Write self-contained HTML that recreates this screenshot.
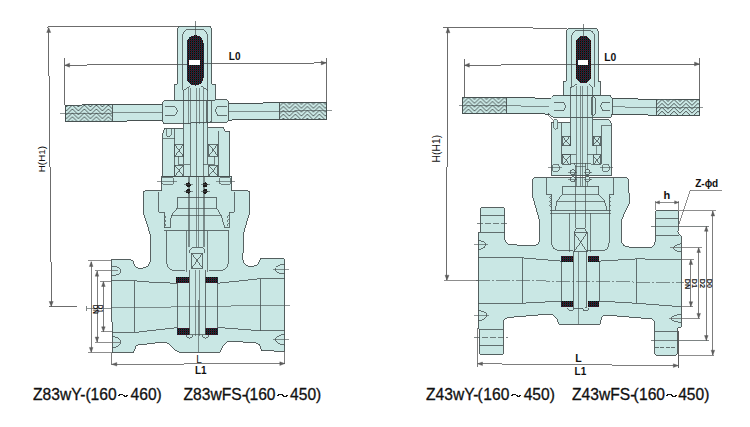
<!DOCTYPE html>
<html><head><meta charset="utf-8"><title>valves</title>
<style>
html,body{margin:0;padding:0;background:#fff;}
svg{display:block;}
text{font-family:"Liberation Sans",sans-serif;}
</style></head><body>
<svg width="750" height="427" viewBox="0 0 750 427" shape-rendering="crispEdges">
<defs>
<pattern id="dith" patternUnits="userSpaceOnUse" width="2" height="2" x="0" y="0">
<rect width="2" height="2" fill="#0c0808"/>
<rect x="0" y="0" width="1" height="1" fill="#501818"/>
<rect x="1" y="1" width="1" height="1" fill="#183c3c"/>
<rect x="1" y="0" width="1" height="1" fill="#1c1a40"/>
</pattern>
<pattern id="knurlA" patternUnits="userSpaceOnUse" width="12" height="3.9" x="66.4" y="105">
<rect width="12" height="3.9" fill="#c9e7e4"/>
<path d="M0,-5.70 L6,-11.70 L12,-5.70 M0,-1.80 L6,-7.80 L12,-1.80 M0,2.10 L6,-3.90 L12,2.10 M0,6.00 L6,0.00 L12,6.00 M0,9.90 L6,3.90 L12,9.90" fill="none" stroke="#465050" stroke-width="0.95"/>
</pattern>
<pattern id="knurlB" patternUnits="userSpaceOnUse" width="12" height="3.9" x="277.4" y="102.5">
<rect width="12" height="3.9" fill="#c9e7e4"/>
<path d="M0,-5.70 L6,-11.70 L12,-5.70 M0,-1.80 L6,-7.80 L12,-1.80 M0,2.10 L6,-3.90 L12,2.10 M0,6.00 L6,0.00 L12,6.00 M0,9.90 L6,3.90 L12,9.90" fill="none" stroke="#465050" stroke-width="0.95"/>
</pattern>
<pattern id="knurlC" patternUnits="userSpaceOnUse" width="12" height="3.9" x="462.5" y="97.5">
<rect width="12" height="3.9" fill="#c9e7e4"/>
<path d="M0,-5.70 L6,-11.70 L12,-5.70 M0,-1.80 L6,-7.80 L12,-1.80 M0,2.10 L6,-3.90 L12,2.10 M0,6.00 L6,0.00 L12,6.00 M0,9.90 L6,3.90 L12,9.90" fill="none" stroke="#465050" stroke-width="0.95"/>
</pattern>
<pattern id="knurlD" patternUnits="userSpaceOnUse" width="12" height="3.9" x="656" y="99.5">
<rect width="12" height="3.9" fill="#c9e7e4"/>
<path d="M0,-5.70 L6,-11.70 L12,-5.70 M0,-1.80 L6,-7.80 L12,-1.80 M0,2.10 L6,-3.90 L12,2.10 M0,6.00 L6,0.00 L12,6.00 M0,9.90 L6,3.90 L12,9.90" fill="none" stroke="#465050" stroke-width="0.95"/>
</pattern>
</defs>
<rect width="750" height="427" fill="#fff"/>
<line x1="46.5" y1="27.0" x2="178.0" y2="26.2" stroke="#5c5c5c" stroke-width="0.9" />
<line x1="48.6" y1="27.5" x2="49.8" y2="167.0" stroke="#5c5c5c" stroke-width="0.9" />
<line x1="50.6" y1="167.0" x2="51.2" y2="306.5" stroke="#5c5c5c" stroke-width="0.9" />
<polygon points="48.7,27.5 46.7,32.5 50.7,32.5" fill="#5c5c5c" stroke="#5c5c5c" stroke-width="0.4" shape-rendering="auto"/>
<polygon points="51.2,306.5 49.2,301.5 53.2,301.5" fill="#5c5c5c" stroke="#5c5c5c" stroke-width="0.4" shape-rendering="auto"/>
<line x1="49.0" y1="306.5" x2="77.0" y2="306.3" stroke="#5c5c5c" stroke-width="0.9" />
<line x1="64.4" y1="58.0" x2="64.6" y2="105.0" stroke="#5c5c5c" stroke-width="0.9" />
<line x1="326.2" y1="58.0" x2="326.4" y2="103.0" stroke="#5c5c5c" stroke-width="0.9" />
<line x1="64.5" y1="65.2" x2="326.2" y2="62.9" stroke="#5c5c5c" stroke-width="0.9" />
<polygon points="64.6,65.2 69.6,63.2 69.6,67.2" fill="#5c5c5c" stroke="#5c5c5c" stroke-width="0.4" shape-rendering="auto"/>
<polygon points="326.2,62.9 321.2,60.9 321.2,64.9" fill="#5c5c5c" stroke="#5c5c5c" stroke-width="0.4" shape-rendering="auto"/>
<polygon points="65.2,105.2 326.6,102.3 326.6,119.1 65.2,121.6" fill="#c9e7e4" stroke="#465050" stroke-width="0.9" />
<polygon points="65.6,105.6 112.2,105.0 112.2,121.0 65.6,121.2" fill="url(#knurlA)" stroke="none"/>
<polygon points="279.0,102.9 326.2,102.6 326.2,118.8 279.0,119.3" fill="url(#knurlB)" stroke="none"/>
<polygon points="65.2,105.2 326.6,102.3 326.6,119.1 65.2,121.6" fill="none" stroke="#465050" stroke-width="0.9" />
<line x1="112.2" y1="104.9" x2="112.2" y2="121.1" stroke="#465050" stroke-width="0.9" />
<line x1="279.0" y1="102.8" x2="279.0" y2="119.4" stroke="#465050" stroke-width="0.9" />
<line x1="60.0" y1="113.4" x2="166.0" y2="112.6" stroke="#465050" stroke-width="0.6" />
<line x1="226.0" y1="111.4" x2="332.0" y2="110.8" stroke="#465050" stroke-width="0.6" />
<path d="M143.4,192.8 Q143.4,190.7 145.5,190.7 L247.6,190.7 Q249.6,190.7 249.6,192.8 L249.6,212.8 L243.3,233.9 L242.9,259.9 Q244,266.6 252.3,266.4 Q259.3,266 260.5,258.2 L282.9,258.2 Q284.5,258.2 284.5,260 L284.7,351.1 L261.2,350.9 Q261,343 254.8,342.6 L229.2,341.3 Q224,342 220.1,352 L178.6,352 Q173.5,350 172,347 Q168,342 163.7,341.9 L136.5,345.1 L133.8,352 L112.3,352.5 L111.4,259.7 L128.7,259 L132.8,260.9 Q134.5,268.6 141,268.4 Q150.5,268 151,257.6 L150.4,235 L143.4,212.8 Z" fill="#c9e7e4" stroke="#465050" stroke-width="0.9" />
<path d="M158.8,192.1 L158.8,212 L164.2,212 L164.2,227.5 M234.3,192.1 L234.3,212 L229.2,212 L229.2,227.5" fill="none" stroke="#465050" stroke-width="0.8" />
<line x1="164.2" y1="227.5" x2="229.2" y2="227.5" stroke="#465050" stroke-width="0.8" />
<line x1="164.2" y1="230.7" x2="229.2" y2="230.7" stroke="#465050" stroke-width="0.8" />
<path d="M164.2,214.9 q3,1.6 0,3.2 M229.2,214.9 q-3,1.6 0,3.2" fill="none" stroke="#465050" stroke-width="0.7" />
<path d="M164.2,218.9 q3,1.6 0,3.2 M229.2,218.9 q-3,1.6 0,3.2" fill="none" stroke="#465050" stroke-width="0.7" />
<path d="M164.2,222.9 q3,1.6 0,3.2 M229.2,222.9 q-3,1.6 0,3.2" fill="none" stroke="#465050" stroke-width="0.7" />
<path d="M170,227.5 L171.2,215.9 L177,208.2 L177.7,197.2 L216.3,197.2 L216.6,208.2 L221.4,215.9 L224.6,227.5" fill="#c9e7e4" stroke="#465050" stroke-width="0.8" />
<line x1="177.0" y1="208.2" x2="216.6" y2="208.2" stroke="#465050" stroke-width="0.7" />
<line x1="171.4" y1="215.4" x2="221.2" y2="215.4" stroke="#465050" stroke-width="0.7" />
<path d="M166.7,230.7 L166.7,262 Q166.7,270.4 174,270.4 L185,270.4 M228.3,230.7 L228.3,262 Q228.3,270.4 221,270.4 L209,270.4" fill="none" stroke="#465050" stroke-width="0.8" />
<line x1="186.5" y1="230.7" x2="186.5" y2="272.0" stroke="#465050" stroke-width="0.7" />
<line x1="207.9" y1="230.7" x2="207.9" y2="272.0" stroke="#465050" stroke-width="0.7" />
<path d="M111.4,280.6 L134.6,280.6 L141,281.6 L176.5,283.3" fill="none" stroke="#465050" stroke-width="0.8" />
<path d="M217.8,283.3 L259.3,278.7 L284.5,278.7" fill="none" stroke="#465050" stroke-width="0.8" />
<path d="M112.3,332.3 L135.9,332.3 L176.5,327.7" fill="none" stroke="#465050" stroke-width="0.8" />
<path d="M218,327.5 L260.1,330.7 L284.7,330.7" fill="none" stroke="#465050" stroke-width="0.8" />
<line x1="134.6" y1="280.6" x2="134.3" y2="332.3" stroke="#465050" stroke-width="0.8" />
<line x1="260.2" y1="278.7" x2="260.1" y2="330.7" stroke="#465050" stroke-width="0.8" />
<line x1="177.5" y1="283.3" x2="177.5" y2="328.0" stroke="#465050" stroke-width="0.8" />
<line x1="217.0" y1="283.3" x2="217.0" y2="328.0" stroke="#465050" stroke-width="0.8" />
<rect x="176.3" y="277.0" width="13.0" height="6.3" rx="0" fill="url(#dith)" stroke="none" stroke-width="0.9" />
<rect x="205.0" y="277.0" width="12.8" height="6.3" rx="0" fill="url(#dith)" stroke="none" stroke-width="0.9" />
<rect x="176.5" y="328.2" width="13.1" height="6.4" rx="0" fill="url(#dith)" stroke="none" stroke-width="0.9" />
<rect x="205.0" y="328.2" width="13.0" height="6.4" rx="0" fill="url(#dith)" stroke="none" stroke-width="0.9" />
<line x1="189.7" y1="270.0" x2="189.7" y2="336.0" stroke="#465050" stroke-width="0.8" />
<line x1="205.0" y1="270.0" x2="205.0" y2="336.0" stroke="#465050" stroke-width="0.8" />
<line x1="195.5" y1="270.0" x2="195.5" y2="336.0" stroke="#465050" stroke-width="0.6" />
<line x1="199.2" y1="270.0" x2="199.2" y2="336.0" stroke="#465050" stroke-width="0.6" />
<path d="M186,334.6 a3.6,3.6 0 0 0 7.2,0 M201.8,334.6 a3.6,3.6 0 0 0 7.2,0" fill="#c9e7e4" stroke="#465050" stroke-width="0.8" />
<path d="M189.6,253 L189.6,250 L192.5,247.3 L202,247.3 L204.8,250 L204.8,253" fill="#c9e7e4" stroke="#465050" stroke-width="0.8" />
<rect x="191.4" y="253.0" width="11.4" height="15.4" rx="0" fill="#c9e7e4" stroke="#465050" stroke-width="0.8" />
<line x1="191.4" y1="253.0" x2="202.8" y2="268.4" stroke="#465050" stroke-width="0.8" />
<line x1="202.8" y1="253.0" x2="191.4" y2="268.4" stroke="#465050" stroke-width="0.8" />
<path d="M111.4,265.8 Q120.9,267 120.9,271 Q120.9,275 111.4,275.8" fill="none" stroke="#465050" stroke-width="0.8" />
<path d="M284.5,264 Q275.1,265.5 275.1,269.3 Q275.1,273 284.5,274" fill="none" stroke="#465050" stroke-width="0.8" />
<path d="M112.3,336.5 Q120.8,337.5 120.8,342.2 Q120.8,346.5 112.3,347.7" fill="none" stroke="#465050" stroke-width="0.8" />
<path d="M284.7,334.4 Q275.6,335.5 275.6,339.7 Q275.6,344 284.7,345.1" fill="none" stroke="#465050" stroke-width="0.8" />
<line x1="86.5" y1="308.4" x2="290.0" y2="305.0" stroke="#465050" stroke-width="0.6" />
<line x1="273.4" y1="269.3" x2="289.2" y2="269.3" stroke="#465050" stroke-width="0.6" />
<line x1="273.0" y1="339.7" x2="289.2" y2="339.7" stroke="#465050" stroke-width="0.6" />
<line x1="189.7" y1="334.4" x2="205.0" y2="334.4" stroke="#465050" stroke-width="0.7" />
<line x1="86.8" y1="306.0" x2="86.8" y2="310.5" stroke="#465050" stroke-width="0.7" />
<line x1="198.8" y1="300.0" x2="198.8" y2="352.2" stroke="#465050" stroke-width="0.6" />
<path d="M161.5,190.9 L161.5,176.2 L231.5,176.2 L231.5,190.9" fill="#c9e7e4" stroke="#465050" stroke-width="0.9" />
<rect x="161.6" y="177.8" width="12.0" height="6.4" rx="1.5" fill="#c9e7e4" stroke="#465050" stroke-width="0.7" />
<rect x="219.6" y="177.8" width="11.0" height="6.4" rx="1.5" fill="#c9e7e4" stroke="#465050" stroke-width="0.7" />
<line x1="156.5" y1="181.0" x2="177.0" y2="181.0" stroke="#465050" stroke-width="0.6" />
<line x1="215.5" y1="181.0" x2="235.0" y2="181.0" stroke="#465050" stroke-width="0.6" />
<path d="M164.4,128.4 L223.8,127.8 L224.5,131.4 L229.8,131.4 L229.8,176.2 L162.5,176.2 L162.5,134 Z" fill="#c9e7e4" stroke="#465050" stroke-width="0.9" />
<line x1="174.7" y1="128.4" x2="174.7" y2="176.2" stroke="#465050" stroke-width="0.8" />
<line x1="218.7" y1="131.4" x2="218.7" y2="176.2" stroke="#465050" stroke-width="0.8" />
<path d="M166.2,128.6 L166.2,135 Q168.6,139 171,135 L171,128.6" fill="none" stroke="#465050" stroke-width="0.7" />
<line x1="162.5" y1="138.2" x2="174.7" y2="138.2" stroke="#465050" stroke-width="0.7" />
<rect x="174.7" y="144.4" width="8.8" height="12.1" rx="0" fill="#c9e7e4" stroke="#465050" stroke-width="0.8" />
<line x1="174.7" y1="144.4" x2="183.5" y2="156.5" stroke="#465050" stroke-width="0.8" />
<line x1="183.5" y1="144.4" x2="174.7" y2="156.5" stroke="#465050" stroke-width="0.8" />
<rect x="174.7" y="165.0" width="8.8" height="11.2" rx="0" fill="#c9e7e4" stroke="#465050" stroke-width="0.8" />
<line x1="174.7" y1="165.0" x2="183.5" y2="176.2" stroke="#465050" stroke-width="0.8" />
<line x1="183.5" y1="165.0" x2="174.7" y2="176.2" stroke="#465050" stroke-width="0.8" />
<rect x="208.6" y="144.0" width="9.3" height="12.2" rx="0" fill="#c9e7e4" stroke="#465050" stroke-width="0.8" />
<line x1="208.6" y1="144.0" x2="217.9" y2="156.2" stroke="#465050" stroke-width="0.8" />
<line x1="217.9" y1="144.0" x2="208.6" y2="156.2" stroke="#465050" stroke-width="0.8" />
<rect x="208.6" y="165.0" width="9.3" height="11.2" rx="0" fill="#c9e7e4" stroke="#465050" stroke-width="0.8" />
<line x1="208.6" y1="165.0" x2="217.9" y2="176.2" stroke="#465050" stroke-width="0.8" />
<line x1="217.9" y1="165.0" x2="208.6" y2="176.2" stroke="#465050" stroke-width="0.8" />
<rect x="183.3" y="84.5" width="24.5" height="44.5" rx="0" fill="#c9e7e4" stroke="none" stroke-width="0.9" />
<line x1="183.3" y1="123.0" x2="183.3" y2="164.4" stroke="#465050" stroke-width="0.8" />
<line x1="207.8" y1="123.0" x2="207.8" y2="164.4" stroke="#465050" stroke-width="0.8" />
<line x1="190.0" y1="123.0" x2="190.0" y2="176.2" stroke="#465050" stroke-width="0.7" />
<line x1="196.1" y1="123.0" x2="196.1" y2="176.2" stroke="#465050" stroke-width="0.7" />
<line x1="203.4" y1="123.0" x2="203.4" y2="176.2" stroke="#465050" stroke-width="0.7" />
<line x1="178.3" y1="156.4" x2="178.3" y2="164.4" stroke="#465050" stroke-width="0.7" />
<line x1="178.3" y1="164.4" x2="190.0" y2="164.4" stroke="#465050" stroke-width="0.7" />
<line x1="214.9" y1="156.4" x2="214.9" y2="164.4" stroke="#465050" stroke-width="0.7" />
<line x1="203.4" y1="164.4" x2="214.9" y2="164.4" stroke="#465050" stroke-width="0.7" />
<line x1="174.7" y1="176.2" x2="218.7" y2="176.2" stroke="#465050" stroke-width="0.7" />
<line x1="188.6" y1="176.2" x2="188.6" y2="247.3" stroke="#465050" stroke-width="0.6" />
<line x1="189.9" y1="176.2" x2="189.9" y2="247.3" stroke="#465050" stroke-width="0.6" />
<line x1="196.3" y1="176.2" x2="196.3" y2="247.3" stroke="#465050" stroke-width="0.6" />
<line x1="198.3" y1="176.2" x2="198.3" y2="247.3" stroke="#465050" stroke-width="0.6" />
<line x1="203.4" y1="176.2" x2="203.4" y2="247.3" stroke="#465050" stroke-width="0.6" />
<line x1="204.7" y1="176.2" x2="204.7" y2="247.3" stroke="#465050" stroke-width="0.6" />
<circle cx="188.4" cy="184.8" r="2.4" fill="#1e1a1a"/>
<circle cx="188.4" cy="191.4" r="2.4" fill="#1e1a1a"/>
<circle cx="205.3" cy="184.8" r="2.4" fill="#1e1a1a"/>
<circle cx="205.3" cy="191.4" r="2.4" fill="#1e1a1a"/>
<line x1="184.0" y1="184.8" x2="193.0" y2="184.8" stroke="#465050" stroke-width="0.6" />
<line x1="184.0" y1="191.4" x2="193.0" y2="191.4" stroke="#465050" stroke-width="0.6" />
<line x1="201.0" y1="184.8" x2="210.0" y2="184.8" stroke="#465050" stroke-width="0.6" />
<line x1="201.0" y1="191.4" x2="210.0" y2="191.4" stroke="#465050" stroke-width="0.6" />
<path d="M162.2,103.2 L164.8,100.4 L227.3,99.7 L228.7,102.4 L228.7,119.8 L227.3,122.2 L164,123.6 L162.2,120.8 Z" fill="#c9e7e4" stroke="#465050" stroke-width="0.9" />
<path d="M164.8,106.7 L175.3,106.7 L177.4,110.9 L175.3,115.1 L164.8,115.1" fill="none" stroke="#465050" stroke-width="0.8" />
<path d="M226.6,106.7 L217.4,106.7 L215.3,110.9 L217.4,115.1 L226.6,115.1" fill="none" stroke="#465050" stroke-width="0.8" />
<rect x="206.2" y="100.4" width="5.6" height="21.8" rx="2.8" fill="#c9e7e4" stroke="#465050" stroke-width="0.8" />
<line x1="183.3" y1="99.7" x2="183.3" y2="123.5" stroke="#465050" stroke-width="0.8" />
<line x1="207.8" y1="99.7" x2="207.8" y2="123.5" stroke="#465050" stroke-width="0.8" />
<line x1="188.4" y1="99.7" x2="188.4" y2="123.5" stroke="#465050" stroke-width="0.6" />
<line x1="190.0" y1="99.7" x2="190.0" y2="123.5" stroke="#465050" stroke-width="0.6" />
<line x1="196.1" y1="99.7" x2="196.1" y2="123.5" stroke="#465050" stroke-width="0.6" />
<line x1="199.4" y1="99.7" x2="199.4" y2="123.5" stroke="#465050" stroke-width="0.6" />
<line x1="203.4" y1="99.7" x2="203.4" y2="123.5" stroke="#465050" stroke-width="0.6" />
<path d="M174.6,100 L174.6,84.2 L177.3,84.2 L177.3,30 Q177.3,26 181.3,26 L207.6,26 Q211.6,26 211.6,30 L211.6,84.2 L215.3,84.2 L215.3,100 Z" fill="#c9e7e4" stroke="#465050" stroke-width="0.9" />
<path d="M182.6,89.5 L182.6,36.5 Q182.6,29.4 189.6,29.4 L200.4,29.4 Q207.4,29.4 207.4,36.5 L207.4,89.5" fill="none" stroke="#465050" stroke-width="0.8" />
<rect x="186.8" y="35.2" width="16.9" height="50.4" rx="8.4" fill="url(#dith)" stroke="none" stroke-width="0.9" />
<rect x="189.3" y="59.8" width="10.4" height="4.8" rx="0" fill="#ffffff" stroke="none" stroke-width="0.9" />
<line x1="195.0" y1="21.0" x2="195.0" y2="36.0" stroke="#465050" stroke-width="0.7" />
<path d="M183.3,90.3 L190.4,86.3 M207.8,90.3 L201.4,86.3" fill="none" stroke="#465050" stroke-width="0.8" />
<line x1="183.3" y1="89.5" x2="183.3" y2="100.0" stroke="#465050" stroke-width="0.8" />
<line x1="207.8" y1="89.5" x2="207.8" y2="100.0" stroke="#465050" stroke-width="0.8" />
<line x1="188.4" y1="88.0" x2="188.4" y2="100.0" stroke="#465050" stroke-width="0.6" />
<line x1="190.0" y1="88.0" x2="190.0" y2="100.0" stroke="#465050" stroke-width="0.6" />
<line x1="196.1" y1="88.0" x2="196.1" y2="100.0" stroke="#465050" stroke-width="0.6" />
<line x1="199.4" y1="88.0" x2="199.4" y2="100.0" stroke="#465050" stroke-width="0.6" />
<line x1="203.4" y1="88.0" x2="203.4" y2="100.0" stroke="#465050" stroke-width="0.6" />
<line x1="177.3" y1="64.1" x2="186.8" y2="64.0" stroke="#465050" stroke-width="0.8" />
<line x1="203.7" y1="63.8" x2="211.6" y2="63.7" stroke="#465050" stroke-width="0.8" />
<line x1="88.0" y1="261.0" x2="111.4" y2="260.5" stroke="#5c5c5c" stroke-width="0.7" />
<line x1="95.0" y1="270.8" x2="118.0" y2="271.0" stroke="#5c5c5c" stroke-width="0.7" />
<line x1="100.0" y1="281.2" x2="111.4" y2="281.0" stroke="#5c5c5c" stroke-width="0.7" />
<line x1="88.0" y1="352.6" x2="112.3" y2="352.5" stroke="#5c5c5c" stroke-width="0.7" />
<line x1="95.0" y1="342.2" x2="120.0" y2="342.2" stroke="#5c5c5c" stroke-width="0.7" />
<line x1="101.0" y1="331.9" x2="112.3" y2="332.0" stroke="#5c5c5c" stroke-width="0.7" />
<line x1="91.2" y1="261.5" x2="91.2" y2="352.4" stroke="#5c5c5c" stroke-width="0.8" />
<line x1="97.0" y1="271.2" x2="97.0" y2="342.0" stroke="#5c5c5c" stroke-width="0.8" />
<line x1="103.4" y1="281.5" x2="103.4" y2="331.8" stroke="#5c5c5c" stroke-width="0.8" />
<polygon points="91.2,261.5 89.4,266.5 93.0,266.5" fill="#5c5c5c" stroke="#5c5c5c" stroke-width="0.4" shape-rendering="auto"/>
<polygon points="91.2,352.4 89.4,347.4 93.0,347.4" fill="#5c5c5c" stroke="#5c5c5c" stroke-width="0.4" shape-rendering="auto"/>
<polygon points="97.0,271.2 95.2,276.2 98.8,276.2" fill="#5c5c5c" stroke="#5c5c5c" stroke-width="0.4" shape-rendering="auto"/>
<polygon points="97.0,342.0 95.2,337.0 98.8,337.0" fill="#5c5c5c" stroke="#5c5c5c" stroke-width="0.4" shape-rendering="auto"/>
<polygon points="103.4,281.5 101.6,286.5 105.2,286.5" fill="#5c5c5c" stroke="#5c5c5c" stroke-width="0.4" shape-rendering="auto"/>
<polygon points="103.4,331.8 101.6,326.8 105.2,326.8" fill="#5c5c5c" stroke="#5c5c5c" stroke-width="0.4" shape-rendering="auto"/>
<line x1="111.6" y1="352.5" x2="111.8" y2="364.8" stroke="#5c5c5c" stroke-width="0.8" />
<line x1="284.7" y1="351.0" x2="284.9" y2="364.0" stroke="#5c5c5c" stroke-width="0.8" />
<line x1="111.8" y1="364.3" x2="284.8" y2="363.6" stroke="#5c5c5c" stroke-width="0.8" />
<polygon points="111.8,364.3 116.8,362.5 116.8,366.1" fill="#5c5c5c" stroke="#5c5c5c" stroke-width="0.4" shape-rendering="auto"/>
<polygon points="284.8,363.6 279.8,361.8 279.8,365.4" fill="#5c5c5c" stroke="#5c5c5c" stroke-width="0.4" shape-rendering="auto"/>
<line x1="442.9" y1="27.5" x2="567.0" y2="28.2" stroke="#5c5c5c" stroke-width="0.9" />
<line x1="448.0" y1="28.0" x2="447.2" y2="167.0" stroke="#5c5c5c" stroke-width="0.9" />
<line x1="446.6" y1="167.0" x2="447.0" y2="280.2" stroke="#5c5c5c" stroke-width="0.9" />
<polygon points="448.0,27.8 446.0,32.8 450.0,32.8" fill="#5c5c5c" stroke="#5c5c5c" stroke-width="0.4" shape-rendering="auto"/>
<polygon points="447.0,280.2 445.0,275.2 449.0,275.2" fill="#5c5c5c" stroke="#5c5c5c" stroke-width="0.4" shape-rendering="auto"/>
<line x1="444.0" y1="280.2" x2="478.0" y2="280.2" stroke="#5c5c5c" stroke-width="0.7" />
<line x1="464.4" y1="58.6" x2="464.4" y2="97.5" stroke="#5c5c5c" stroke-width="0.9" />
<line x1="699.5" y1="57.5" x2="699.6" y2="116.0" stroke="#5c5c5c" stroke-width="0.9" />
<line x1="464.4" y1="65.2" x2="699.5" y2="64.0" stroke="#5c5c5c" stroke-width="0.9" />
<polygon points="464.4,65.2 469.4,63.2 469.4,67.2" fill="#5c5c5c" stroke="#5c5c5c" stroke-width="0.4" shape-rendering="auto"/>
<polygon points="699.5,64.0 694.5,62.0 694.5,66.0" fill="#5c5c5c" stroke="#5c5c5c" stroke-width="0.4" shape-rendering="auto"/>
<polygon points="462.3,97.3 699.5,99.6 699.5,115.5 462.3,113.2" fill="#c9e7e4" stroke="#465050" stroke-width="0.9" />
<polygon points="462.6,97.7 506.8,98.1 506.8,113.6 462.6,112.9" fill="url(#knurlC)" stroke="none"/>
<polygon points="656.0,99.2 699.2,99.9 699.2,115.2 656.0,114.8" fill="url(#knurlD)" stroke="none"/>
<polygon points="462.3,97.3 699.5,99.6 699.5,115.5 462.3,113.2" fill="none" stroke="#465050" stroke-width="0.9" />
<line x1="506.8" y1="97.7" x2="506.8" y2="113.7" stroke="#465050" stroke-width="0.9" />
<line x1="656.0" y1="99.2" x2="656.0" y2="115.1" stroke="#465050" stroke-width="0.9" />
<line x1="459.0" y1="105.4" x2="560.0" y2="106.4" stroke="#465050" stroke-width="0.6" />
<line x1="605.0" y1="106.8" x2="703.0" y2="107.8" stroke="#465050" stroke-width="0.6" />
<path d="M532.9,179.7 Q532.9,177.5 535.1,177.5 L626.2,177.7 Q628.4,177.7 628.4,179.9 L629.5,202.9 L621,220.8 L621,238.7 Q621.5,247.1 629.5,247.1 L650.5,247.1 Q655.5,246 655.5,238.5 L655.5,212.4 Q655.5,210.4 657.5,210.4 L676.6,210.4 Q678.6,210.4 678.6,212.4 L678.6,223 L677.9,232.2 L681.0,236.4 L681.4,327.0 L677.4,328.2 L677.4,353.2 Q677.4,355.2 675.4,355.2 L656.7,355.2 Q654.7,355.2 654.7,353.2 L654.4,323.4 Q654,318.8 650.6,318.75 L604.7,315 Q601,316 600,324.4 L558.8,324.4 Q557,315 549.4,314 L508,317.5 Q503.2,318.5 503.2,323 L503.2,352.5 Q503.2,354.5 501.2,354.5 L481.5,354.5 Q479.5,354.5 479.5,352.5 L479.3,329 L478,328 L478,233 L480.3,232.2 L480.3,209.6 Q480.3,207.6 482.3,207.6 L502.5,207.5 Q504.5,207.5 504.5,209.5 L504.5,237.4 Q505,244.7 511,244.7 L532.9,245.8 Q539.6,245 539.6,239.5 L539.2,219.5 L532.9,197.4 Z" fill="#c9e7e4" stroke="#465050" stroke-width="0.9" />
<line x1="480.3" y1="215.3" x2="504.5" y2="215.3" stroke="#465050" stroke-width="0.8" />
<line x1="476.5" y1="223.9" x2="509.0" y2="223.9" stroke="#465050" stroke-width="0.7" stroke-dasharray="6,2"/>
<line x1="480.3" y1="232.2" x2="504.5" y2="232.2" stroke="#465050" stroke-width="0.8" />
<line x1="479.3" y1="329.2" x2="503.2" y2="329.2" stroke="#465050" stroke-width="0.8" />
<line x1="474.0" y1="337.0" x2="508.0" y2="337.0" stroke="#465050" stroke-width="0.7" stroke-dasharray="6,2"/>
<line x1="479.4" y1="345.1" x2="503.2" y2="345.1" stroke="#465050" stroke-width="0.8" />
<line x1="655.5" y1="218.1" x2="678.6" y2="218.1" stroke="#465050" stroke-width="0.8" />
<line x1="650.5" y1="226.3" x2="709.0" y2="226.3" stroke="#465050" stroke-width="0.7" />
<line x1="655.5" y1="235.0" x2="678.6" y2="235.0" stroke="#465050" stroke-width="0.8" />
<line x1="654.6" y1="331.6" x2="677.4" y2="331.6" stroke="#465050" stroke-width="0.8" />
<line x1="650.5" y1="340.5" x2="709.0" y2="340.5" stroke="#465050" stroke-width="0.7" />
<line x1="654.7" y1="347.8" x2="677.4" y2="347.8" stroke="#465050" stroke-width="0.8" stroke-dasharray="4,1.5"/>
<path d="M478,240.4 Q485.7,241.5 485.7,244.3 Q485.7,248.5 478,249.7" fill="none" stroke="#465050" stroke-width="0.8" />
<path d="M478,310.4 Q486.8,311.5 486.8,315.1 Q486.8,319.5 478,321" fill="none" stroke="#465050" stroke-width="0.8" />
<path d="M681.4,243.8 Q673.9,245 673.9,247.5 Q673.9,251 681.4,252" fill="none" stroke="#465050" stroke-width="0.8" />
<path d="M681.4,314.2 Q671.5,315.5 671.5,318.4 Q671.5,321.5 681.4,322.4" fill="none" stroke="#465050" stroke-width="0.8" />
<line x1="474.0" y1="244.3" x2="488.0" y2="244.3" stroke="#465050" stroke-width="0.6" />
<line x1="474.0" y1="315.1" x2="489.0" y2="315.1" stroke="#465050" stroke-width="0.6" />
<path d="M546.6,178 L546.6,194.5 L551.6,194.5 L551.6,243 Q552,250.5 560.3,250.5 L573,250.5 M613.8,178 L613.8,194.5 L609.0,194.5 L609.0,243 Q609,250.5 602.4,250.5 L586.6,250.5" fill="none" stroke="#465050" stroke-width="0.8" />
<path d="M551.6,195.7 q-3.6,1.8 0,3.6 M609.0,195.7 q3.6,1.8 0,3.6" fill="none" stroke="#465050" stroke-width="0.7" />
<path d="M551.6,199.7 q-3.6,1.8 0,3.6 M609.0,199.7 q3.6,1.8 0,3.6" fill="none" stroke="#465050" stroke-width="0.7" />
<path d="M551.6,203.7 q-3.6,1.8 0,3.6 M609.0,203.7 q3.6,1.8 0,3.6" fill="none" stroke="#465050" stroke-width="0.7" />
<line x1="549.5" y1="210.7" x2="611.0" y2="210.7" stroke="#465050" stroke-width="0.8" />
<line x1="549.5" y1="213.2" x2="611.0" y2="213.2" stroke="#465050" stroke-width="0.7" />
<path d="M555.4,209.5 L557,201 L562.5,194.3 L562.5,186 L598.8,186 L598.8,194.3 L604.5,201 L607,209.5" fill="#c9e7e4" stroke="#465050" stroke-width="0.8" />
<line x1="562.5" y1="194.3" x2="598.8" y2="194.3" stroke="#465050" stroke-width="0.7" />
<line x1="557.0" y1="201.0" x2="604.5" y2="201.0" stroke="#465050" stroke-width="0.7" />
<line x1="569.5" y1="213.2" x2="569.5" y2="251.6" stroke="#465050" stroke-width="0.7" />
<line x1="590.6" y1="213.2" x2="590.6" y2="251.6" stroke="#465050" stroke-width="0.7" />
<path d="M478,257.9 L522.4,257.9 L561.4,261.1" fill="none" stroke="#465050" stroke-width="0.8" />
<path d="M599.3,261.1 L636.8,258.9 L681.4,259.5" fill="none" stroke="#465050" stroke-width="0.8" />
<path d="M478,303.2 L522.4,303.2 L561.4,301.1" fill="none" stroke="#465050" stroke-width="0.8" />
<path d="M599.3,301.1 L636.8,303.3 L681.4,306.7" fill="none" stroke="#465050" stroke-width="0.8" />
<line x1="522.4" y1="257.9" x2="522.4" y2="303.2" stroke="#465050" stroke-width="0.8" />
<line x1="636.8" y1="258.9" x2="636.8" y2="303.3" stroke="#465050" stroke-width="0.8" />
<line x1="561.4" y1="261.0" x2="561.4" y2="301.2" stroke="#465050" stroke-width="0.8" />
<line x1="599.3" y1="261.0" x2="599.3" y2="301.2" stroke="#465050" stroke-width="0.8" />
<rect x="561.4" y="255.8" width="11.6" height="6.3" rx="0" fill="url(#dith)" stroke="none" stroke-width="0.9" />
<rect x="587.7" y="255.8" width="11.6" height="6.3" rx="0" fill="url(#dith)" stroke="none" stroke-width="0.9" />
<rect x="561.4" y="301.1" width="11.6" height="5.9" rx="0" fill="url(#dith)" stroke="none" stroke-width="0.9" />
<rect x="587.7" y="301.1" width="11.6" height="5.9" rx="0" fill="url(#dith)" stroke="none" stroke-width="0.9" />
<path d="M573,251 L573,305.5 Q573,308.6 576,308.6 L583.6,308.6 Q586.6,308.6 586.6,305.5 L586.6,251" fill="none" stroke="#465050" stroke-width="0.8" />
<path d="M567.8,308 a3,3 0 0 0 6,0 M582.6,308 a3,3 0 0 0 6,0" fill="#c9e7e4" stroke="#465050" stroke-width="0.8" />
<path d="M574.2,232.9 L576.4,228.2 L584.8,228.2 L587,232.9" fill="#c9e7e4" stroke="#465050" stroke-width="0.8" />
<rect x="574.2" y="232.9" width="12.8" height="18.7" rx="0" fill="#c9e7e4" stroke="#465050" stroke-width="0.8" />
<line x1="574.2" y1="232.9" x2="587.0" y2="251.6" stroke="#465050" stroke-width="0.8" />
<line x1="587.0" y1="232.9" x2="574.2" y2="251.6" stroke="#465050" stroke-width="0.8" />
<line x1="476.0" y1="280.2" x2="684.0" y2="282.6" stroke="#465050" stroke-width="0.6" stroke-dasharray="14,2,2,2"/>
<line x1="578.8" y1="252.0" x2="578.8" y2="324.4" stroke="#465050" stroke-width="0.6" />
<path d="M550.5,122.9 L592.6,122.9 L592.6,119.4 L606.1,119.4 Q611.4,119.4 611.4,125.5 L611.4,175.6 L551.7,175.6 L551.7,122.9 Z" fill="#c9e7e4" stroke="#465050" stroke-width="0.9" />
<line x1="561.3" y1="122.9" x2="561.3" y2="164.2" stroke="#465050" stroke-width="0.8" />
<line x1="601.2" y1="125.5" x2="601.2" y2="164.2" stroke="#465050" stroke-width="0.8" />
<line x1="601.2" y1="125.5" x2="611.4" y2="125.5" stroke="#465050" stroke-width="0.7" />
<rect x="562.2" y="136.1" width="7.9" height="9.6" rx="0" fill="#c9e7e4" stroke="#465050" stroke-width="0.8" />
<line x1="562.2" y1="136.1" x2="570.1" y2="145.7" stroke="#465050" stroke-width="0.8" />
<line x1="570.1" y1="136.1" x2="562.2" y2="145.7" stroke="#465050" stroke-width="0.8" />
<rect x="562.2" y="154.5" width="7.9" height="9.7" rx="0" fill="#c9e7e4" stroke="#465050" stroke-width="0.8" />
<line x1="562.2" y1="154.5" x2="570.1" y2="164.2" stroke="#465050" stroke-width="0.8" />
<line x1="570.1" y1="154.5" x2="562.2" y2="164.2" stroke="#465050" stroke-width="0.8" />
<rect x="593.0" y="136.1" width="7.8" height="9.6" rx="0" fill="#c9e7e4" stroke="#465050" stroke-width="0.8" />
<line x1="593.0" y1="136.1" x2="600.8" y2="145.7" stroke="#465050" stroke-width="0.8" />
<line x1="600.8" y1="136.1" x2="593.0" y2="145.7" stroke="#465050" stroke-width="0.8" />
<rect x="593.0" y="154.5" width="7.8" height="9.7" rx="0" fill="#c9e7e4" stroke="#465050" stroke-width="0.8" />
<line x1="593.0" y1="154.5" x2="600.8" y2="164.2" stroke="#465050" stroke-width="0.8" />
<line x1="600.8" y1="154.5" x2="593.0" y2="164.2" stroke="#465050" stroke-width="0.8" />
<rect x="552.2" y="164.5" width="6.8" height="6.5" rx="1.2" fill="#c9e7e4" stroke="#465050" stroke-width="0.7" />
<rect x="602.2" y="164.5" width="6.8" height="6.5" rx="1.2" fill="#c9e7e4" stroke="#465050" stroke-width="0.7" />
<line x1="548.2" y1="167.7" x2="561.5" y2="167.7" stroke="#465050" stroke-width="0.6" />
<line x1="600.0" y1="167.7" x2="613.1" y2="167.7" stroke="#465050" stroke-width="0.6" />
<path d="M553.6,119.8 Q555.6,118.5 557.6,120.5 L557.6,128 Q555.6,131 553.6,128 Z" fill="#c9e7e4" stroke="#465050" stroke-width="0.7" />
<line x1="547.6" y1="113.5" x2="553.4" y2="119.6" stroke="#465050" stroke-width="0.7" />
<rect x="570.1" y="82.0" width="22.5" height="41.5" rx="0" fill="#c9e7e4" stroke="none" stroke-width="0.9" />
<line x1="570.1" y1="86.0" x2="570.1" y2="146.0" stroke="#465050" stroke-width="0.8" />
<line x1="592.6" y1="86.0" x2="592.6" y2="146.0" stroke="#465050" stroke-width="0.8" />
<line x1="576.3" y1="86.0" x2="576.3" y2="186.0" stroke="#465050" stroke-width="0.6" />
<line x1="580.7" y1="86.0" x2="580.7" y2="186.0" stroke="#465050" stroke-width="0.6" />
<line x1="582.8" y1="86.0" x2="582.8" y2="186.0" stroke="#465050" stroke-width="0.6" />
<line x1="587.0" y1="86.0" x2="587.0" y2="186.0" stroke="#465050" stroke-width="0.6" />
<line x1="562.2" y1="154.5" x2="576.3" y2="154.5" stroke="#465050" stroke-width="0.7" />
<line x1="587.0" y1="154.5" x2="593.0" y2="154.5" stroke="#465050" stroke-width="0.7" />
<line x1="596.6" y1="145.7" x2="596.6" y2="154.5" stroke="#465050" stroke-width="0.6" />
<path d="M570.1,164.2 L574.5,163.3 L586.0,163.3 L592.6,164.2 M574.5,163.3 L575.4,166 L575.4,228.2 M586.0,163.3 L585.9,166 L585.9,228.2" fill="none" stroke="#465050" stroke-width="0.7" />
<line x1="575.4" y1="166.0" x2="585.9" y2="166.0" stroke="#465050" stroke-width="0.6" />
<circle cx="572.8" cy="172.1" r="2.5" fill="#c9e7e4" stroke="#465050" stroke-width="0.8"/>
<circle cx="572.8" cy="179.1" r="2.5" fill="#c9e7e4" stroke="#465050" stroke-width="0.8"/>
<circle cx="587.7" cy="172.1" r="2.5" fill="#c9e7e4" stroke="#465050" stroke-width="0.8"/>
<circle cx="587.7" cy="179.1" r="2.5" fill="#c9e7e4" stroke="#465050" stroke-width="0.8"/>
<line x1="568.0" y1="172.1" x2="577.0" y2="172.1" stroke="#465050" stroke-width="0.6" />
<line x1="568.0" y1="179.1" x2="577.0" y2="179.1" stroke="#465050" stroke-width="0.6" />
<line x1="583.5" y1="172.1" x2="592.0" y2="172.1" stroke="#465050" stroke-width="0.6" />
<line x1="583.5" y1="179.1" x2="592.0" y2="179.1" stroke="#465050" stroke-width="0.6" />
<path d="M551.5,97.4 L553.3,95.2 L610.9,95.5 L612.3,98.3 L612.3,113.7 L610.9,117.2 L553.6,117.8 L547.6,113.0 Z" fill="#c9e7e4" stroke="none" stroke-width="0.9" />
<path d="M551.5,97.4 L553.3,95.2 L610.9,95.5 L612.3,98.3 L612.3,113.7 L610.9,117.2 L553.6,117.8 L547.6,113.0" fill="none" stroke="#465050" stroke-width="0.9" />
<path d="M554.2,102 L563.7,102 L565.9,106.4 L563.7,110.8 L554.2,110.8" fill="none" stroke="#465050" stroke-width="0.8" />
<path d="M609.9,102.2 L602.4,102.2 L600.4,106.2 L602.4,110.2 L609.9,110.2" fill="none" stroke="#465050" stroke-width="0.8" />
<rect x="591.2" y="96.9" width="4.2" height="18.2" rx="2.1" fill="#c9e7e4" stroke="#465050" stroke-width="0.8" />
<line x1="570.1" y1="94.8" x2="570.1" y2="117.2" stroke="#465050" stroke-width="0.8" />
<line x1="592.6" y1="94.8" x2="592.6" y2="117.2" stroke="#465050" stroke-width="0.8" />
<line x1="576.3" y1="94.8" x2="576.3" y2="117.2" stroke="#465050" stroke-width="0.6" />
<line x1="580.7" y1="94.8" x2="580.7" y2="117.2" stroke="#465050" stroke-width="0.6" />
<line x1="582.8" y1="94.8" x2="582.8" y2="117.2" stroke="#465050" stroke-width="0.6" />
<line x1="587.0" y1="94.8" x2="587.0" y2="117.2" stroke="#465050" stroke-width="0.6" />
<path d="M563.3,95 L563.3,81.4 L566.3,81.4 L566.3,32.2 Q566.3,28.2 570.3,28.2 L594.4,28.2 Q598.4,28.2 598.4,32.2 L598.4,81.4 L600.3,81.4 L600.3,95 Z" fill="#c9e7e4" stroke="#465050" stroke-width="0.9" />
<path d="M571.7,87 L571.7,37 Q571.7,30.5 578.2,30.5 L587.9,30.5 Q594.4,30.5 594.4,37 L594.4,87" fill="none" stroke="#465050" stroke-width="0.8" />
<rect x="575.7" y="35.9" width="15.7" height="47.3" rx="7.8" fill="url(#dith)" stroke="none" stroke-width="0.9" />
<rect x="578.0" y="60.3" width="10.0" height="4.7" rx="0" fill="#ffffff" stroke="none" stroke-width="0.9" />
<line x1="583.4" y1="23.5" x2="583.4" y2="37.0" stroke="#465050" stroke-width="0.7" />
<line x1="570.1" y1="87.0" x2="570.1" y2="95.0" stroke="#465050" stroke-width="0.8" />
<line x1="592.6" y1="87.0" x2="592.6" y2="95.0" stroke="#465050" stroke-width="0.8" />
<line x1="576.3" y1="86.0" x2="576.3" y2="95.0" stroke="#465050" stroke-width="0.6" />
<line x1="580.7" y1="86.0" x2="580.7" y2="95.0" stroke="#465050" stroke-width="0.6" />
<line x1="582.8" y1="86.0" x2="582.8" y2="95.0" stroke="#465050" stroke-width="0.6" />
<line x1="587.0" y1="86.0" x2="587.0" y2="95.0" stroke="#465050" stroke-width="0.6" />
<path d="M570.1,88 L577,84 M592.6,88 L589,84" fill="none" stroke="#465050" stroke-width="0.8" />
<line x1="566.3" y1="64.8" x2="575.7" y2="64.7" stroke="#465050" stroke-width="0.8" />
<line x1="591.4" y1="64.4" x2="600.3" y2="64.3" stroke="#465050" stroke-width="0.8" />
<line x1="677.0" y1="210.8" x2="716.0" y2="210.8" stroke="#5c5c5c" stroke-width="0.7" />
<line x1="670.0" y1="247.5" x2="702.0" y2="247.5" stroke="#5c5c5c" stroke-width="0.7" />
<line x1="681.0" y1="259.5" x2="694.0" y2="259.5" stroke="#5c5c5c" stroke-width="0.7" />
<line x1="682.0" y1="306.7" x2="693.0" y2="306.7" stroke="#5c5c5c" stroke-width="0.7" />
<line x1="669.0" y1="318.4" x2="700.0" y2="318.4" stroke="#5c5c5c" stroke-width="0.7" />
<line x1="678.0" y1="355.2" x2="714.0" y2="355.2" stroke="#5c5c5c" stroke-width="0.7" />
<line x1="712.9" y1="211.0" x2="712.9" y2="355.2" stroke="#5c5c5c" stroke-width="0.8" />
<polygon points="712.9,211.0 711.1,216.0 714.7,216.0" fill="#5c5c5c" stroke="#5c5c5c" stroke-width="0.4" shape-rendering="auto"/>
<polygon points="712.9,355.2 711.1,350.2 714.7,350.2" fill="#5c5c5c" stroke="#5c5c5c" stroke-width="0.4" shape-rendering="auto"/>
<line x1="706.3" y1="226.3" x2="706.3" y2="340.5" stroke="#5c5c5c" stroke-width="0.8" />
<polygon points="706.3,226.3 704.5,231.3 708.1,231.3" fill="#5c5c5c" stroke="#5c5c5c" stroke-width="0.4" shape-rendering="auto"/>
<polygon points="706.3,340.5 704.5,335.5 708.1,335.5" fill="#5c5c5c" stroke="#5c5c5c" stroke-width="0.4" shape-rendering="auto"/>
<line x1="698.7" y1="247.5" x2="698.7" y2="318.4" stroke="#5c5c5c" stroke-width="0.8" />
<polygon points="698.7,247.5 696.9,252.5 700.5,252.5" fill="#5c5c5c" stroke="#5c5c5c" stroke-width="0.4" shape-rendering="auto"/>
<polygon points="698.7,318.4 696.9,313.4 700.5,313.4" fill="#5c5c5c" stroke="#5c5c5c" stroke-width="0.4" shape-rendering="auto"/>
<line x1="690.9" y1="259.5" x2="690.9" y2="306.7" stroke="#5c5c5c" stroke-width="0.8" />
<polygon points="690.9,259.5 689.1,264.5 692.7,264.5" fill="#5c5c5c" stroke="#5c5c5c" stroke-width="0.4" shape-rendering="auto"/>
<polygon points="690.9,306.7 689.1,301.7 692.7,301.7" fill="#5c5c5c" stroke="#5c5c5c" stroke-width="0.4" shape-rendering="auto"/>
<line x1="655.5" y1="200.5" x2="655.5" y2="210.4" stroke="#5c5c5c" stroke-width="0.7" />
<line x1="678.6" y1="200.5" x2="678.6" y2="210.4" stroke="#5c5c5c" stroke-width="0.7" />
<line x1="655.5" y1="202.4" x2="678.6" y2="202.4" stroke="#5c5c5c" stroke-width="0.7" />
<polygon points="655.5,202.4 659.5,200.8 659.5,204.0" fill="#5c5c5c" stroke="#5c5c5c" stroke-width="0.4" shape-rendering="auto"/>
<polygon points="678.6,202.4 674.6,200.8 674.6,204.0" fill="#5c5c5c" stroke="#5c5c5c" stroke-width="0.4" shape-rendering="auto"/>
<line x1="690.3" y1="190.0" x2="722.0" y2="190.0" stroke="#5c5c5c" stroke-width="0.7" />
<line x1="690.3" y1="190.0" x2="678.4" y2="226.0" stroke="#5c5c5c" stroke-width="0.7" />
<line x1="477.2" y1="328.0" x2="477.2" y2="366.5" stroke="#5c5c5c" stroke-width="0.8" />
<line x1="678.6" y1="331.0" x2="678.6" y2="367.5" stroke="#5c5c5c" stroke-width="1.0" />
<line x1="477.5" y1="363.8" x2="678.3" y2="365.6" stroke="#5c5c5c" stroke-width="0.8" />
<polygon points="477.5,363.8 482.5,362.0 482.5,365.6" fill="#5c5c5c" stroke="#5c5c5c" stroke-width="0.4" shape-rendering="auto"/>
<polygon points="678.3,365.6 673.3,363.8 673.3,367.4" fill="#5c5c5c" stroke="#5c5c5c" stroke-width="0.4" shape-rendering="auto"/>
<text x="228.8" y="60.2" font-size="10" font-weight="bold" text-anchor="start" fill="#111" >L0</text>
<text x="604.2" y="60.6" font-size="10.3" font-weight="bold" text-anchor="start" fill="#111" >L0</text>
<text x="196.3" y="363.2" font-size="10" font-weight="normal" text-anchor="start" fill="#111" >L</text>
<text x="195.0" y="373.8" font-size="10" font-weight="bold" text-anchor="start" fill="#111" >L1</text>
<text x="575.2" y="362.0" font-size="10.5" font-weight="bold" text-anchor="start" fill="#111" >L</text>
<text x="574.6" y="374.6" font-size="10" font-weight="bold" text-anchor="start" fill="#111" >L1</text>
<text x="663.4" y="198.6" font-size="11" font-weight="bold" text-anchor="start" fill="#111" >h</text>
<text x="695.2" y="187.1" font-size="10" font-weight="bold" text-anchor="start" fill="#111" >Z-&#981;d</text>
<text transform="translate(44.6,172.2) rotate(-90)" font-size="9.8" fill="#111">H(H1)</text>
<text transform="translate(440.3,162.4) rotate(-90)" font-size="10.3" fill="#111">H(H1)</text>
<text transform="translate(92.9,304.8) rotate(90)" font-size="6.3" font-weight="bold" fill="#111">DN</text>
<text transform="translate(98.0,304.8) rotate(90)" font-size="6.3" font-weight="bold" fill="#111">D1</text>
<text transform="translate(684.6,278.8) rotate(90)" font-size="7.2" font-weight="bold" fill="#111">DN</text>
<text transform="translate(692.4,278.8) rotate(90)" font-size="7.2" font-weight="bold" fill="#111">D1</text>
<text transform="translate(700.2,278.8) rotate(90)" font-size="7.2" font-weight="bold" fill="#111">D2</text>
<text transform="translate(707.4,278.8) rotate(90)" font-size="7.2" font-weight="bold" fill="#111">D0</text>
<text x="33.1" y="399.6" font-size="15.6" font-weight="normal" text-anchor="start" fill="#111" stroke="#111" stroke-width="0.3">Z83wY-</text>
<text x="85.4" y="399.6" font-size="15.6" font-weight="normal" text-anchor="start" fill="#111" stroke="#111" stroke-width="0.3">(</text>
<text x="103.6" y="399.6" font-size="15.6" font-weight="normal" text-anchor="middle" fill="#111" stroke="#111" stroke-width="0.3">160</text>
<path d="M118.40,395.90 C120.40,393.20 122.20,394.30 123.40,395.30 C124.60,396.30 126.40,397.40 128.40,394.70" fill="none" stroke="#111" stroke-width="1.3"/>
<text x="146.2" y="399.6" font-size="15.6" font-weight="normal" text-anchor="middle" fill="#111" stroke="#111" stroke-width="0.3">460)</text>
<text x="183.6" y="399.6" font-size="15.6" font-weight="normal" text-anchor="start" fill="#111" stroke="#111" stroke-width="0.3">Z83wFS-</text>
<text x="245.1" y="399.6" font-size="15.6" font-weight="normal" text-anchor="start" fill="#111" stroke="#111" stroke-width="0.3">(</text>
<text x="262.5" y="399.6" font-size="15.6" font-weight="normal" text-anchor="middle" fill="#111" stroke="#111" stroke-width="0.3">160</text>
<path d="M277.60,395.90 C279.60,393.20 281.40,394.30 282.60,395.30 C283.80,396.30 285.60,397.40 287.60,394.70" fill="none" stroke="#111" stroke-width="1.3"/>
<text x="305.7" y="399.6" font-size="15.6" font-weight="normal" text-anchor="middle" fill="#111" stroke="#111" stroke-width="0.3">450)</text>
<text x="426.1" y="399.6" font-size="15.6" font-weight="normal" text-anchor="start" fill="#111" stroke="#111" stroke-width="0.3">Z43wY-</text>
<text x="477.5" y="399.6" font-size="15.6" font-weight="normal" text-anchor="start" fill="#111" stroke="#111" stroke-width="0.3">(</text>
<text x="496.3" y="399.6" font-size="15.6" font-weight="normal" text-anchor="middle" fill="#111" stroke="#111" stroke-width="0.3">160</text>
<path d="M511.40,395.90 C513.40,393.20 515.20,394.30 516.40,395.30 C517.60,396.30 519.40,397.40 521.40,394.70" fill="none" stroke="#111" stroke-width="1.3"/>
<text x="539.3" y="399.6" font-size="15.6" font-weight="normal" text-anchor="middle" fill="#111" stroke="#111" stroke-width="0.3">450)</text>
<text x="572.1" y="399.6" font-size="15.6" font-weight="normal" text-anchor="start" fill="#111" stroke="#111" stroke-width="0.3">Z43wFS-</text>
<text x="633.6" y="399.6" font-size="15.6" font-weight="normal" text-anchor="start" fill="#111" stroke="#111" stroke-width="0.3">(</text>
<text x="652.0" y="399.6" font-size="15.6" font-weight="normal" text-anchor="middle" fill="#111" stroke="#111" stroke-width="0.3">160</text>
<path d="M666.70,395.90 C668.70,393.20 670.50,394.30 671.70,395.30 C672.90,396.30 674.70,397.40 676.70,394.70" fill="none" stroke="#111" stroke-width="1.3"/>
<text x="693.8" y="399.6" font-size="15.6" font-weight="normal" text-anchor="middle" fill="#111" stroke="#111" stroke-width="0.3">450)</text>
</svg>
</body></html>
